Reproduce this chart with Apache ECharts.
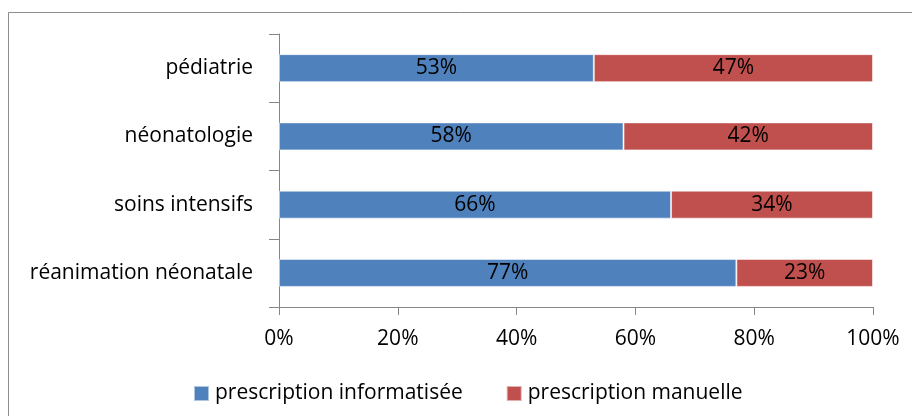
<!DOCTYPE html>
<html>
<head>
<meta charset="utf-8">
<script src="https://cdn.jsdelivr.net/npm/echarts@6/dist/echarts.min.js"></script>
<style>
  html, body { margin: 0; padding: 0; background: #fff; }
  #chart { width: 912px; height: 416px; }
</style>
</head>
<body>
<div id="chart"></div>
<script>
// Services, listed bottom to top
var categories = ['réanimation néonatale', 'soins intensifs', 'néonatologie', 'pédiatrie'];
// Share of prescriptions (%) per service
var informatisee = [77, 66, 58, 53];
var manuelle = [23, 34, 42, 47];
var seriesNames = ['prescription informatisée', 'prescription manuelle'];
var xTicks = [0, 20, 40, 60, 80, 100];

var FONT = '"Open Sans", sans-serif';
var FS = 21;
var chart = echarts.init(document.getElementById('chart'));

function barSeries(name, data, color) {
  return {
    name: name,
    type: 'bar',
    stack: 'total',
    data: data,
    barWidth: 28,
    itemStyle: { color: color, borderColor: 'rgba(255,255,255,0.55)', borderWidth: 1 },
    label: {
      show: true,
      position: 'inside',
      formatter: '{c}%',
      color: '#000',
      fontFamily: FONT,
      fontSize: FS
    }
  };
}

chart.setOption({
  animation: false,
  graphic: [{
    type: 'rect',
    shape: { x: 8.5, y: 12.5, width: 940, height: 440 },
    style: { fill: null, stroke: '#8c8c8c', lineWidth: 1 }
  }],
  grid: { left: 279, right: 39, top: 34, bottom: 109 },
  legend: {
    left: 188,
    top: 378,
    itemWidth: 15,
    itemHeight: 15,
    itemGap: 43,
    icon: 'rect',
    data: seriesNames,
    textStyle: { fontFamily: FONT, fontSize: FS, color: '#000', padding: [0, 0, 0, 1] }
  },
  xAxis: {
    type: 'value',
    min: xTicks[0],
    max: xTicks[xTicks.length - 1],
    interval: 20,
    axisLine: { show: true, lineStyle: { color: '#868686' } },
    axisTick: { show: true, length: 8, lineStyle: { color: '#868686' } },
    splitLine: { show: false },
    axisLabel: {
      formatter: '{value}%',
      margin: 22,
      color: '#000',
      fontFamily: FONT,
      fontSize: FS
    }
  },
  yAxis: {
    type: 'category',
    data: categories,
    axisLine: { show: true, lineStyle: { color: '#868686' } },
    axisTick: { show: true, length: 10, alignWithLabel: false, lineStyle: { color: '#868686' } },
    axisLabel: {
      margin: 26,
      color: '#000',
      fontFamily: FONT,
      fontSize: FS
    }
  },
  series: [
    barSeries(seriesNames[0], informatisee, '#4F81BD'),
    barSeries(seriesNames[1], manuelle, '#C0504D')
  ]
});
</script>
</body>
</html>
